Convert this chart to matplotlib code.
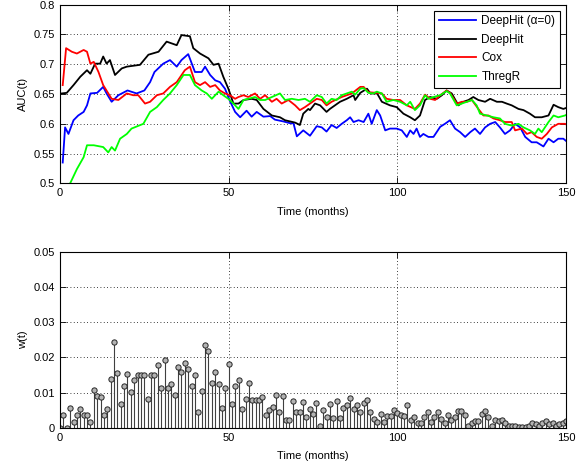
import numpy as np
import matplotlib
matplotlib.use('Agg')
import matplotlib.pyplot as plt

plt.rcParams['font.family'] = ['Liberation Sans', 'DejaVu Sans']
plt.rcParams['font.size'] = 8

# AUC(t) curves as (month, value) pairs
blue_t = [0.8, 1.5, 2.5, 4, 5.4, 7, 8, 9, 11, 12.8, 13.8, 15.3, 17.3, 20, 22.7, 25, 26.7, 28, 30.6, 32.6,
          34.6, 36, 38, 40, 42, 43, 44.5, 46, 47.4, 48.9, 50.4, 51.9, 53.4, 55.3, 56.8, 58.3, 60.3, 62.3,
          63.7, 66.2, 68.2, 69.2, 70.2, 72.1, 74.1, 76.1, 77.6, 79, 80.5, 82, 83.5, 85, 86, 87, 88.5, 90,
          91.4, 92.4, 93.9, 94.9, 96.4, 97.8, 99.8, 101.3, 102.8, 103.8, 104.8, 105.7, 106.7, 107.7, 109.2,
          110.7, 112.7, 114.1, 115.6, 117.1, 118.6, 120.1, 121.6, 123, 124.5, 126, 127.5, 129, 130.4, 131.9,
          133.4, 134.9, 136.4, 137.9, 139.8, 141.3, 143.3, 144.8, 146.3, 147.7, 149.2, 150.7]
blue_v = [0.535, 0.594, 0.583, 0.606, 0.614, 0.62, 0.631, 0.651, 0.652, 0.662, 0.651, 0.637, 0.648, 0.656,
          0.651, 0.656, 0.67, 0.687, 0.701, 0.707, 0.696, 0.707, 0.717, 0.687, 0.687, 0.696, 0.682, 0.673,
          0.67, 0.659, 0.638, 0.62, 0.611, 0.622, 0.612, 0.62, 0.612, 0.613, 0.607, 0.604, 0.601, 0.601,
          0.579, 0.589, 0.58, 0.596, 0.594, 0.587, 0.598, 0.593, 0.6, 0.606, 0.611, 0.603, 0.606, 0.603,
          0.617, 0.6, 0.623, 0.614, 0.589, 0.592, 0.592, 0.589, 0.578, 0.589, 0.583, 0.592, 0.578, 0.583,
          0.578, 0.578, 0.595, 0.6, 0.606, 0.592, 0.586, 0.578, 0.586, 0.592, 0.583, 0.594, 0.6, 0.603,
          0.594, 0.583, 0.589, 0.6, 0.594, 0.578, 0.569, 0.569, 0.562, 0.575, 0.569, 0.575, 0.575, 0.568]

black_t = [0.5, 2, 4, 6, 8, 9, 10.4, 11.9, 12.8, 13.8, 14.8, 16.3, 18.3, 19.8, 23.7, 26.2, 29.2, 31.6, 34.6,
           36, 38.5, 39.5, 41.5, 44, 45.5, 47, 48.4, 49.9, 51.4, 52.9, 54.4, 56.8, 58.3, 60.3, 62.8, 65.2,
           66.7, 68.2, 69.7, 71.1, 72.1, 73.6, 74.1, 75.6, 77.1, 79, 80, 81.5, 83, 85, 87, 87.5, 89, 91,
           92, 94, 95.4, 97.8, 99.8, 101.8, 103.8, 105.2, 106.7, 108.2, 109.7, 111.7, 113.2, 114.6, 116.1,
           118.1, 119.6, 121.1, 122.5, 124, 126, 127.5, 129.5, 131, 132.4, 133.9, 135.9, 137.4, 139.3,
           140.8, 142.8, 144.8, 146.3, 147.7, 149.2, 150.7]
black_v = [0.651, 0.652, 0.665, 0.679, 0.69, 0.684, 0.701, 0.701, 0.713, 0.701, 0.707, 0.682, 0.693, 0.696,
           0.699, 0.716, 0.721, 0.738, 0.732, 0.749, 0.747, 0.727, 0.718, 0.71, 0.699, 0.701, 0.679, 0.659,
           0.634, 0.634, 0.64, 0.642, 0.64, 0.625, 0.614, 0.611, 0.606, 0.604, 0.602, 0.598, 0.617, 0.625,
           0.623, 0.634, 0.631, 0.62, 0.625, 0.631, 0.637, 0.642, 0.648, 0.64, 0.652, 0.659, 0.651, 0.651,
           0.637, 0.631, 0.628, 0.617, 0.611, 0.606, 0.614, 0.64, 0.645, 0.642, 0.648, 0.656, 0.651, 0.631,
           0.637, 0.64, 0.645, 0.64, 0.637, 0.642, 0.637, 0.637, 0.634, 0.631, 0.625, 0.623, 0.617, 0.611,
           0.611, 0.614, 0.632, 0.628, 0.625, 0.628]

red_t = [0.8, 1.8, 3.5, 5, 7, 8, 9, 10, 11.4, 12.8, 15.3, 17.3, 19.8, 21.7, 23.2, 25.2, 26.7, 28.7, 30.6,
         32.6, 34.6, 37, 38.5, 40, 41.5, 43, 44.5, 46, 47.4, 48.9, 50.4, 51.9, 52.9, 54.4, 55.8, 57.8,
         59.3, 60.8, 62.8, 64.2, 65.7, 67.7, 69.7, 71.1, 72.6, 74.1, 76.1, 77.6, 79, 80.5, 83.5, 86.5,
         89, 90, 91.4, 93.9, 95.4, 96.8, 98.8, 100.8, 102.8, 105.2, 106.7, 108.2, 109.7, 111.2, 112.7,
         114.6, 115.6, 117.6, 119.1, 120.6, 122.1, 124, 125.5, 127, 128.5, 130.4, 131.9, 133.9, 134.9,
         136.9, 138.4, 139.8, 141.3, 142.8, 144.3, 145.8, 147.7, 149.7, 150.7]
red_v = [0.665, 0.727, 0.721, 0.718, 0.724, 0.721, 0.701, 0.704, 0.687, 0.665, 0.642, 0.64, 0.651, 0.648,
         0.648, 0.634, 0.637, 0.648, 0.651, 0.662, 0.67, 0.69, 0.696, 0.67, 0.665, 0.67, 0.662, 0.665,
         0.656, 0.651, 0.648, 0.642, 0.645, 0.648, 0.645, 0.651, 0.642, 0.648, 0.637, 0.642, 0.634, 0.64,
         0.631, 0.623, 0.628, 0.634, 0.642, 0.64, 0.631, 0.637, 0.645, 0.651, 0.662, 0.662, 0.653, 0.652,
         0.651, 0.642, 0.64, 0.64, 0.631, 0.625, 0.634, 0.649, 0.642, 0.64, 0.648, 0.656, 0.652, 0.634,
         0.637, 0.637, 0.64, 0.625, 0.614, 0.614, 0.609, 0.606, 0.603, 0.603, 0.589, 0.592, 0.583, 0.586,
         0.578, 0.575, 0.583, 0.594, 0.6, 0.6, 0.597]

green_t = [3, 5, 7, 8, 10, 12.8, 14.3, 15.3, 16.3, 17.8, 19.8, 21.2, 24.7, 26.7, 28.7, 30.6, 32.6, 34.6,
           36.6, 38.5, 40, 42, 43.5, 45, 47, 48.4, 49.9, 51.4, 52.9, 54.4, 55.8, 57.8, 59.3, 60.8, 62.8,
           65.2, 66.7, 68.7, 70.7, 72.6, 74.1, 76.1, 77.6, 79, 80.5, 82, 83.5, 85, 86.5, 87.5, 89, 90,
           91.4, 92.9, 93.9, 95.4, 96.8, 98.8, 100.8, 102.8, 103.8, 105.2, 106.7, 108.2, 109.2, 110.7,
           112.7, 114.6, 115.6, 117.6, 119.1, 120.6, 122.1, 123.5, 124.5, 126.5, 128.5, 130.4, 131.9,
           133.9, 135.9, 137.4, 139.3, 140.8, 141.8, 142.8, 144.8, 146.3, 147.7, 149.7, 150.7]
green_v = [0.5, 0.524, 0.544, 0.564, 0.564, 0.561, 0.552, 0.561, 0.555, 0.575, 0.583, 0.592, 0.6, 0.62,
           0.628, 0.64, 0.651, 0.665, 0.682, 0.682, 0.665, 0.656, 0.651, 0.642, 0.654, 0.648, 0.642, 0.634,
           0.625, 0.64, 0.642, 0.645, 0.64, 0.64, 0.645, 0.651, 0.64, 0.642, 0.64, 0.642, 0.637, 0.648,
           0.645, 0.634, 0.642, 0.64, 0.648, 0.651, 0.654, 0.649, 0.659, 0.66, 0.652, 0.651, 0.654, 0.651,
           0.637, 0.64, 0.637, 0.631, 0.637, 0.623, 0.631, 0.648, 0.642, 0.645, 0.648, 0.655, 0.651, 0.631,
           0.634, 0.637, 0.64, 0.631, 0.617, 0.614, 0.611, 0.609, 0.6, 0.597, 0.6, 0.594, 0.589, 0.583,
           0.592, 0.586, 0.603, 0.614, 0.611, 0.614, 0.617]

labels = ['DeepHit (\u03b1=0)', 'DeepHit', 'Cox', 'ThregR']

# weights w(t), one per month
months = np.arange(0, 151)
w = [0, 0.0036, 0, 0.0056, 0.0017, 0.0036, 0.0055, 0.0036, 0.0036, 0.0017,
     0.0107, 0.009, 0.0088, 0.0036, 0.0053, 0.0139, 0.0243, 0.0156, 0.0069, 0.012,
     0.0153, 0.0101, 0.0135, 0.015, 0.015, 0.015, 0.0083, 0.0149, 0.0149, 0.0178,
     0.0113, 0.0192, 0.0113, 0.0125, 0.0093, 0.0172, 0.0158, 0.0184, 0.0167, 0.012,
     0.015, 0.0045, 0.0104, 0.0236, 0.0219, 0.0128, 0.016, 0.0125, 0.0056, 0.0113,
     0.0181, 0.0069, 0.012, 0.0135, 0.0053, 0.0081, 0.0128, 0.0079, 0.0079, 0.0079,
     0.0088, 0.0036, 0.005, 0.006, 0.0093, 0.0046, 0.0091, 0.0022, 0.0022, 0.0077,
     0.0044, 0.0044, 0.0075, 0.003, 0.0053, 0.0041, 0.0072, 0.0007, 0.005, 0.003,
     0.0069, 0.0027, 0.0077, 0.0027, 0.0058, 0.0066, 0.0085, 0.0055, 0.0064, 0.0044,
     0.0072, 0.008, 0.0044, 0.0025, 0.0016, 0.0041, 0.0016, 0.0034, 0.0034, 0.005,
     0.0043, 0.0037, 0.0034, 0.0064, 0.0022, 0.003, 0.0015, 0.0015, 0.0032, 0.0045,
     0.0017, 0.003, 0.0045, 0.0026, 0.0015, 0.0037, 0.0022, 0.003, 0.0049, 0.0049,
     0.0036, 0.0007, 0.0013, 0.0021, 0.0019, 0.0039, 0.0049, 0.003, 0.0007, 0.0022,
     0.0019, 0.0022, 0.0013, 0.0007, 0.0007, 0.0007, 0.0004, 0.0002, 0.0004, 0.0007,
     0.0015, 0.0011, 0.0007, 0.0015, 0.0019, 0.0011, 0.0015, 0.0007, 0.0011, 0.0015,
     0.0021]


def matlab_axes(ax):
    ax.grid(True, linestyle=(0, (1, 3)), color='k', linewidth=0.6)
    ax.tick_params(direction='in', top=True, right=True, length=4, width=0.6, labelsize=8)
    for s in ax.spines.values():
        s.set_linewidth(0.8)


fig = plt.figure(figsize=(5.85, 4.69), dpi=100)

# top panel: AUC(t)
ax1 = fig.add_axes([0.1026, 0.609, 0.865, 0.381])
ax1.plot(blue_t, blue_v, color='#0000ff', lw=1.3, label=labels[0])
ax1.plot(black_t, black_v, color='k', lw=1.3, label=labels[1])
ax1.plot(red_t, red_v, color='#ff0000', lw=1.3, label=labels[2])
ax1.plot(green_t, green_v, color='#00ff00', lw=1.3, label=labels[3])
ax1.set_xlim(0, 150)
ax1.set_ylim(0.5, 0.8)
ax1.set_xticks([0, 50, 100, 150])
ax1.set_yticks([0.5, 0.55, 0.6, 0.65, 0.7, 0.75, 0.8])
ax1.set_yticklabels(['0.5', '0.55', '0.6', '0.65', '0.7', '0.75', '0.8'])
ax1.set_xlabel('Time (months)', labelpad=6)
ax1.set_ylabel('AUC(t)', labelpad=4)
matlab_axes(ax1)
leg = ax1.legend(loc='upper right', fancybox=False, edgecolor='k', framealpha=1,
                 handlelength=3.1, handletextpad=0.5, borderaxespad=0.5, labelspacing=0.55,
                 fontsize=8.5)
leg.get_frame().set_linewidth(0.8)

# bottom panel: w(t)
ax2 = fig.add_axes([0.1026, 0.0874, 0.865, 0.376])
markerline, stemlines, baseline = ax2.stem(months, w, linefmt='-', markerfmt='o', basefmt=' ')
plt.setp(stemlines, color='0.25', linewidth=0.8)
plt.setp(markerline, markersize=3.8, markerfacecolor='0.7', markeredgecolor='0.15', markeredgewidth=0.7)
ax2.set_xlim(0, 150)
ax2.set_ylim(0, 0.05)
ax2.set_xticks([0, 50, 100, 150])
ax2.set_yticks([0, 0.01, 0.02, 0.03, 0.04, 0.05])
ax2.set_yticklabels(['0', '0.01', '0.02', '0.03', '0.04', '0.05'])
ax2.set_xlabel('Time (months)', labelpad=6)
ax2.set_ylabel('w(t)', labelpad=4)
matlab_axes(ax2)

plt.savefig('out.png', dpi=100)
